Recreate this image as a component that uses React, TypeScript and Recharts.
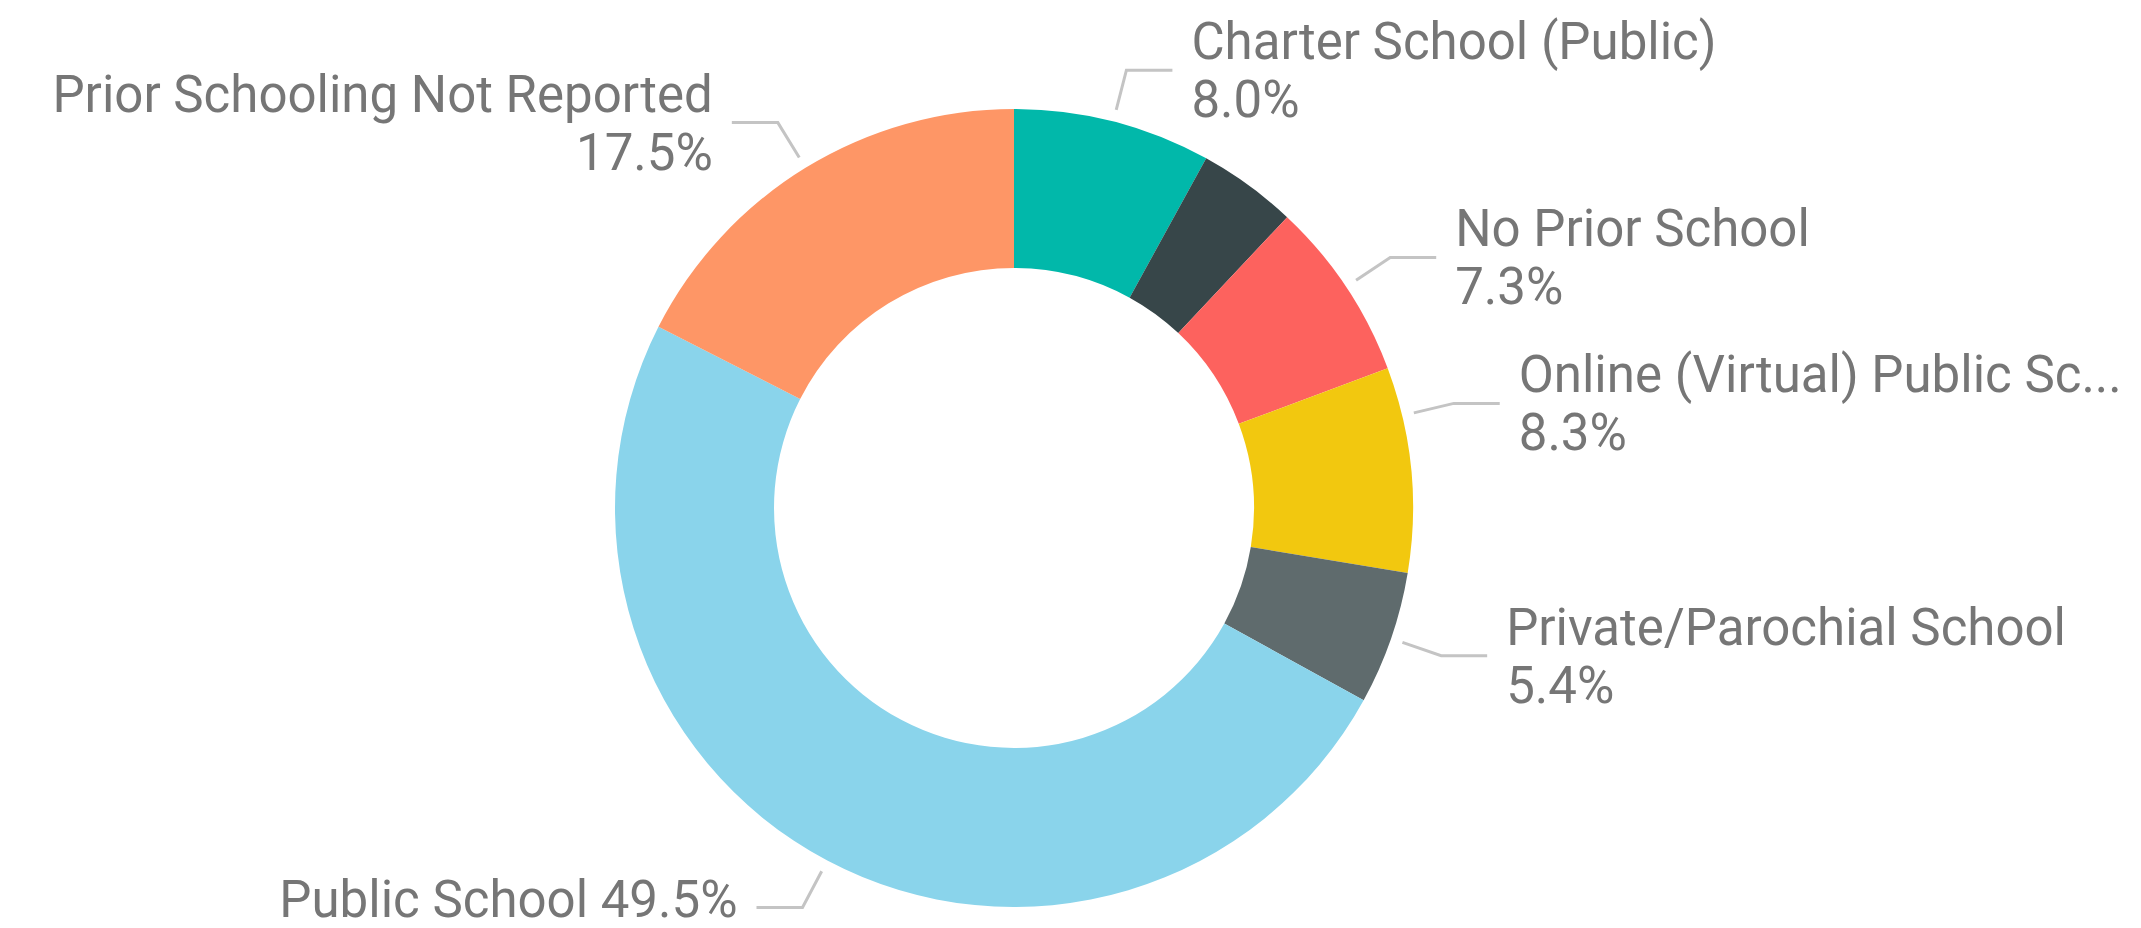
import { PieChart, Pie, Cell } from 'recharts';

const categories = [
  'Charter School (Public)',
  'Other',
  'No Prior School',
  'Online (Virtual) Public School',
  'Private/Parochial School',
  'Public School',
  'Prior Schooling Not Reported',
];
const shares = [8.0, 4.0, 7.3, 8.3, 5.4, 49.5, 17.5];
const colors = ['#01B8AA', '#374649', '#FD625E', '#F2C80F', '#5F6B6D', '#8AD4EB', '#FE9666'];
const showLabel = [true, false, true, true, true, true, true];
// Power BI nudges one label upward to keep it clear of its neighbour
const labelAngleShift = [0, 0, 0, 7.8, 0, 0, 0];

const data = categories.map((name, i) => ({ name, value: shares[i] }));

const TEXT = '#767676';
const FONT_SIZE = 51;
const LINE_GAP = 29;
const CAP_HALF = 18;

function truncate(name: string, max: number) {
  return name.length > max ? name.slice(0, max) + '...' : name;
}

function renderLabel(props: any) {
  const { cx, cy, midAngle, outerRadius, index, value, name } = props;
  if (!showLabel[index]) return null;
  const rad = (-(midAngle + labelAngleShift[index]) * Math.PI) / 180;
  const cos = Math.cos(rad);
  const sin = Math.sin(rad);
  const sx = cx + (outerRadius + 12) * cos;
  const sy = cy + (outerRadius + 12) * sin;
  const ex = cx + (outerRadius + 53) * cos;
  const ey = cy + (outerRadius + 53) * sin;
  const right = cos >= 0;
  const hx = ex + (right ? 46 : -46);
  const tx = hx + (right ? 19 : -19);
  const anchor = right ? 'start' : 'end';
  const label = right ? truncate(name, 26) : name;
  const pct = `${Number(value).toFixed(1)}%`;
  const single = ey > cy + outerRadius * 0.7;

  return (
    <g key={`lbl-${index}`}>
      <polyline
        points={`${sx},${sy} ${ex},${ey} ${hx},${ey}`}
        fill="none"
        stroke="#c4c4c4"
        strokeWidth={3}
      />
      {single ? (
        <text x={tx} y={ey + CAP_HALF - 8} textAnchor={anchor} fill={TEXT} fontSize={FONT_SIZE}>
          {`${label} ${pct}`}
        </text>
      ) : (
        <text textAnchor={anchor} fill={TEXT} fontSize={FONT_SIZE}>
          <tspan x={tx} y={ey - LINE_GAP + CAP_HALF}>{label}</tspan>
          <tspan x={tx} y={ey + LINE_GAP + CAP_HALF}>{pct}</tspan>
        </text>
      )}
    </g>
  );
}

export default function App() {
  return (
    <div style={{ position: 'absolute', left: 0, top: 0, width: 2141, height: 928, background: '#fff', fontFamily: 'Roboto, sans-serif' }}>
      <PieChart width={2141} height={928} margin={{ top: 0, right: 0, bottom: 0, left: 0 }}>
        <Pie
          data={data}
          dataKey="value"
          nameKey="name"
          cx={1014}
          cy={508}
          innerRadius={240}
          outerRadius={399}
          startAngle={90}
          endAngle={-270}
          stroke="none"
          label={renderLabel}
          labelLine={false}
          isAnimationActive={false}
        >
          {data.map((d, i) => (
            <Cell key={d.name} fill={colors[i]} />
          ))}
        </Pie>
      </PieChart>
    </div>
  );
}
